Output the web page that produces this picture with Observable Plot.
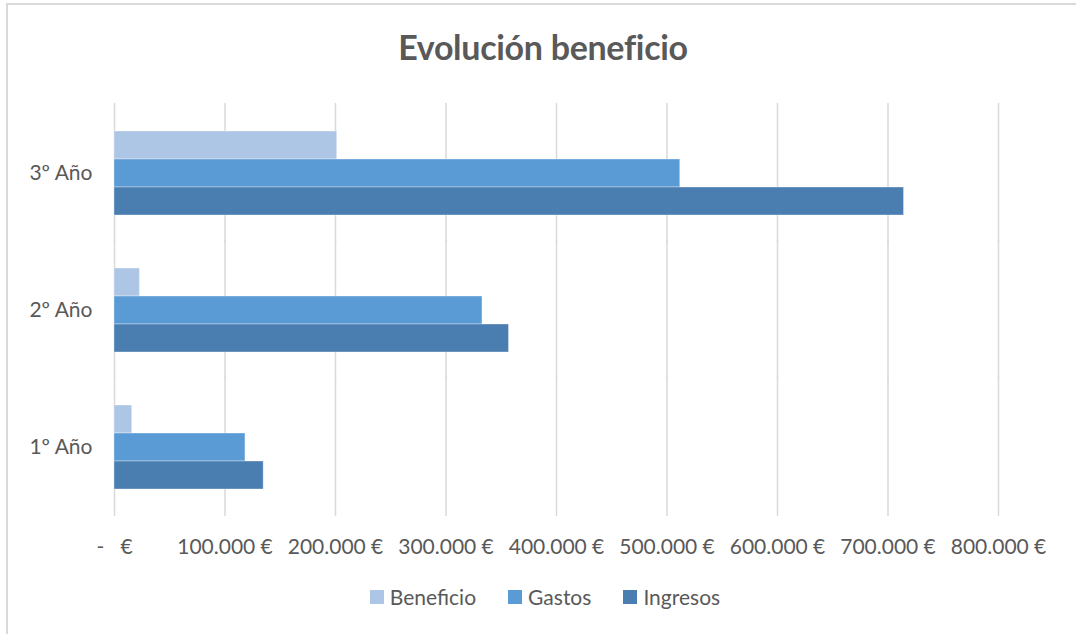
<!DOCTYPE html>
<html>
<head>
<meta charset="utf-8">
<script src="https://cdn.jsdelivr.net/npm/d3@7"></script>
<script src="https://cdn.jsdelivr.net/npm/@observablehq/plot@0.6"></script>
<style>
  html, body { margin: 0; padding: 0; background: #fff; }
  #wrap { position: relative; width: 1076px; height: 634px; overflow: hidden; font-family: Lato, "Open Sans", sans-serif; color: #595959; }
  #frame { position: absolute; left: 6px; top: 3px; width: 1200px; height: 800px; border-top: 2px solid #d9d9d9; border-left: 2px solid #d9d9d9; box-sizing: border-box; }
  #title { position: relative; height: 90px; line-height: 94px; text-align: center; font-size: 34px; font-weight: 700; padding-left: 10px; letter-spacing: -0.3px; }
  #chart { position: relative; height: 480px; }
  #legend { position: relative; display: flex; justify-content: center; align-items: center; gap: 32px; font-size: 21px; padding-left: 14px; margin-top: 14px; }
  .item { display: flex; align-items: center; gap: 6px; }
  .sw { width: 14px; height: 14px; display: inline-block; }
</style>
</head>
<body>
<div id="wrap">
  <div id="frame"></div>
  <div id="title">Evolución beneficio</div>
  <div id="chart"></div>
  <div id="legend"></div>
</div>
<script>
const years = ["1º Año", "2º Año", "3º Año"];
const series = ["Beneficio", "Gastos", "Ingresos"];
const colors = ["#aec6e6", "#5b9bd5", "#4a7eb0"];
const beneficio = [16000, 23000, 201500];
const gastos = [118500, 333000, 512000];
const ingresos = [135000, 357000, 714500];
const xTicks = [0, 100000, 200000, 300000, 400000, 500000, 600000, 700000, 800000];

const values = [beneficio, gastos, ingresos];
const data = [];
years.forEach((yr, i) => series.forEach((s, j) => data.push({year: yr, series: s, value: values[j][i]})));

const fmt = d => d === 0 ? "-\u00a0\u00a0\u00a0€" : d3.format(",")(d).replace(/,/g, ".") + " €";

const chart = Plot.plot({
  width: 1076,
  height: 480,
  marginTop: 13,
  marginBottom: 55,
  marginLeft: 114,
  marginRight: 78,
  style: {fontFamily: "Lato, 'Open Sans', sans-serif", fontSize: "21px", color: "#595959", background: "transparent"},
  x: {domain: [0, 800000], ticks: xTicks, tickFormat: fmt, label: null, tickSize: 0, tickPadding: 50},
  fy: {domain: years.slice().reverse(), paddingInner: 0.38, paddingOuter: 0.19, label: null, tickSize: 0, tickPadding: 22},
  y: {domain: series, axis: null, padding: 0},
  color: {domain: series, range: colors},
  facet: {data, y: "year", marginLeft: 114},
  marks: [
    Plot.gridX(xTicks, {facet: false, stroke: "#d9d9d9", strokeWidth: 1.5, strokeOpacity: 1, insetTop: -27, insetBottom: -27}),
    Plot.barX(data, {y: "series", x: "value", fill: "series", stroke: "#ffffff", strokeOpacity: 0.35, strokeWidth: 1})
  ]
});
document.getElementById("chart").appendChild(chart);

const legend = document.getElementById("legend");
series.forEach((s, i) => {
  const it = document.createElement("div");
  it.className = "item";
  const sw = document.createElement("span");
  sw.className = "sw";
  sw.style.background = colors[i];
  const t = document.createElement("span");
  t.textContent = s;
  it.appendChild(sw); it.appendChild(t);
  legend.appendChild(it);
});
</script>
</body>
</html>
